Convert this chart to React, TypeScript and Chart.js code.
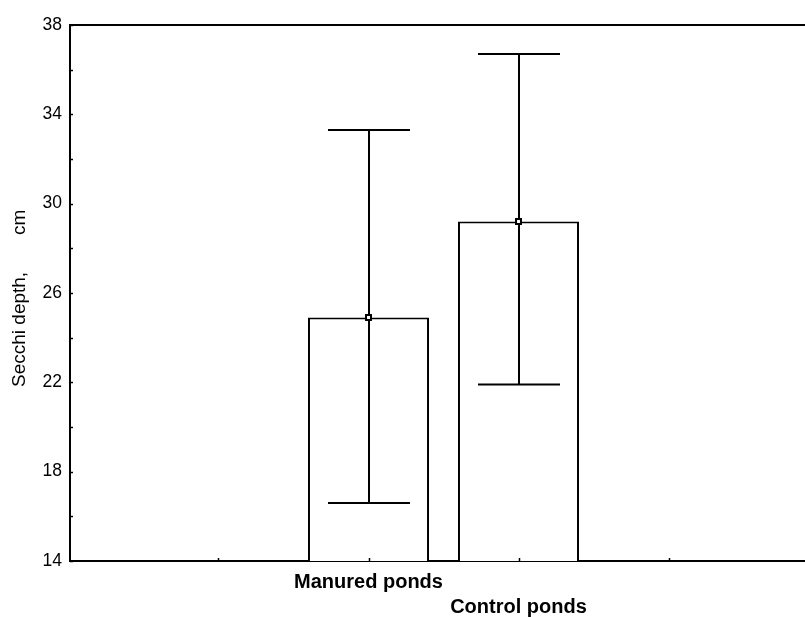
import React, { useEffect, useRef } from "react";
import { Chart, registerables } from "chart.js";

Chart.register(...registerables);

// ---- data ----
const categories = ["Manured ponds", "Control ponds"];
const categoryIndex = [2, 3];
const means = [24.9, 29.2];
const lowerBounds = [16.6, 21.9];
const upperBounds = [33.3, 36.7];
const xTickValues = [1, 2, 3, 4];
const yMin = 14;
const yMax = 38;
const yStep = 4;
const yMinorStep = 2;
const yTitle = "Secchi depth,       cm  ";

const FONT = "'Liberation Sans', Arial, Helvetica, sans-serif";

const errorBarPlugin = {
  id: "errorBars",
  afterDatasetDraw(chart: any, args: any) {
    if (args.meta.type !== "bar") return;
    const { ctx, scales } = chart;
    const xs = scales.x;
    const ys = scales.y;
    const capHalf = 41;
    ctx.save();
    ctx.strokeStyle = "#000";
    ctx.lineWidth = 2;
    ctx.lineCap = "butt";
    for (let i = 0; i < categoryIndex.length; i++) {
      const px = Math.round(xs.getPixelForValue(categoryIndex[i]));
      const pLo = ys.getPixelForValue(lowerBounds[i]);
      const pHi = ys.getPixelForValue(upperBounds[i]);
      ctx.beginPath();
      ctx.moveTo(px, pLo);
      ctx.lineTo(px, pHi);
      ctx.moveTo(px - capHalf, pLo);
      ctx.lineTo(px + capHalf, pLo);
      ctx.moveTo(px - capHalf, pHi);
      ctx.lineTo(px + capHalf, pHi);
      ctx.stroke();
    }
    ctx.restore();
  },
};

const framePlugin = {
  id: "frameTicks",
  afterDraw(chart: any) {
    const { ctx, chartArea, scales } = chart;
    ctx.save();
    ctx.strokeStyle = "#000";
    ctx.lineWidth = 2;
    ctx.beginPath();
    ctx.moveTo(chartArea.left - 1, chartArea.top);
    ctx.lineTo(chart.width, chartArea.top);
    ctx.moveTo(chartArea.right - 1, chartArea.bottom);
    ctx.lineTo(chart.width, chartArea.bottom);
    ctx.stroke();
    ctx.lineWidth = 1.5;
    ctx.beginPath();
    for (let v = yMin; v <= yMax; v += yMinorStep) {
      const py = Math.round(scales.y.getPixelForValue(v)) + 0.5;
      ctx.moveTo(chartArea.left, py);
      ctx.lineTo(chartArea.left + 3, py);
    }
    for (const v of xTickValues) {
      const px = Math.round(scales.x.getPixelForValue(v)) + 0.5;
      ctx.moveTo(px, chartArea.bottom);
      ctx.lineTo(px, chartArea.bottom - 3);
    }
    ctx.stroke();
    ctx.restore();
  },
};

export default function App() {
  const ref = useRef<HTMLCanvasElement | null>(null);

  useEffect(() => {
    if (!ref.current) return;
    const chart = new Chart(ref.current, {
      type: "bar",
      data: {
        datasets: [
          {
            type: "bar",
            data: categoryIndex.map((x, i) => ({ x, y: means[i] })),
            backgroundColor: "#fff",
            borderColor: "#000",
            borderWidth: 2,
            borderSkipped: "start",
            barPercentage: 0.807,
            categoryPercentage: 1,
            order: 2,
          } as any,
          {
            type: "scatter",
            data: categoryIndex.map((x, i) => ({ x, y: means[i] })),
            pointStyle: "rect",
            pointRadius: 3.5,
            backgroundColor: "#fff",
            borderColor: "#000",
            borderWidth: 2,
            order: 1,
          } as any,
        ],
      },
      options: {
        animation: false,
        responsive: false,
        layout: { autoPadding: false, padding: { top: 25, right: 0, left: 0, bottom: 0 } },
        plugins: {
          legend: { display: false },
          tooltip: { enabled: false },
        },
        scales: {
          x: {
            type: "linear",
            offset: false,
            min: 0.01,
            max: 4.91,
            afterBuildTicks: (scale: any) => {
              scale.ticks = xTickValues.map((value) => ({ value }));
            },
            afterFit: (scale: any) => {
              scale.height = 56;
              scale.paddingRight = 0;
              scale.paddingLeft = 0;
            },
            grid: { display: true, drawOnChartArea: false, drawTicks: false },
            border: { display: true, color: "#000", width: 2 },
            ticks: {
              autoSkip: false,
              maxRotation: 0,
              padding: 9,
              color: "#000",
              font: { family: FONT, size: 20, weight: "bold", lineHeight: 1.25 },
              callback: (value: any) => {
                const idx = categoryIndex.indexOf(Number(value));
                if (idx < 0) return "";
                return idx % 2 === 0 ? categories[idx] : ["", categories[idx]];
              },
            },
          },
          y: {
            type: "linear",
            min: yMin,
            max: yMax,
            afterFit: (scale: any) => {
              scale.width = 70;
            },
            grid: { display: true, drawOnChartArea: false, drawTicks: false },
            border: { display: true, color: "#000", width: 2 },
            ticks: {
              stepSize: yStep,
              padding: 8,
              color: "#000",
              font: { family: FONT, size: 17.5 },
            },
            title: {
              display: true,
              text: yTitle,
              color: "#000",
              padding: { top: 8, bottom: 0 },
              font: { family: FONT, size: 19 },
            },
          },
        },
      },
      plugins: [errorBarPlugin, framePlugin],
    } as any);
    return () => chart.destroy();
  }, []);

  return (
    <div style={{ position: "absolute", left: 0, top: 0, width: 805, height: 617, background: "#fff" }}>
      <canvas ref={ref} width={805} height={617} style={{ display: "block" }} />
    </div>
  );
}
